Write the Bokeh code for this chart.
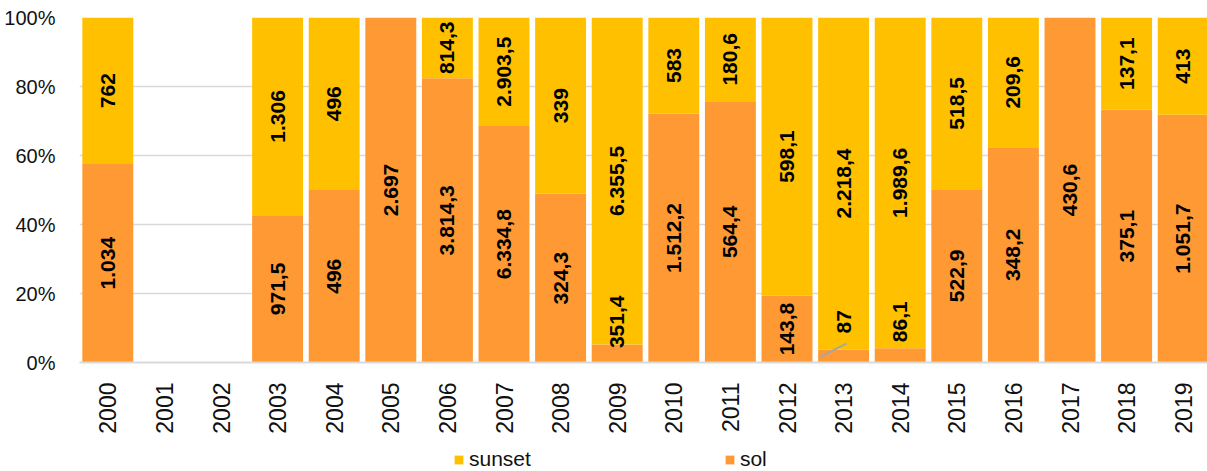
import math
from bokeh.plotting import figure
from bokeh.layouts import column
from bokeh.models import (Range1d, FixedTicker, PrintfTickFormatter, Legend,
                          LegendItem)
from bokeh.core.properties import value
from bokeh.embed import file_html
from bokeh.resources import INLINE

# ---- data ----
years = list(range(2000, 2020))
sol = [1034, 0, 0, 971.5, 496, 2697, 3814.3, 6334.8, 324.3, 351.4,
       1512.2, 564.4, 143.8, 87, 86.1, 522.9, 348.2, 430.6, 375.1, 1051.7]
sunset = [762, 0, 0, 1306, 496, 0, 814.3, 2903.5, 339, 6355.5,
          583, 180.6, 598.1, 2218.4, 1989.6, 518.5, 209.6, 0, 137.1, 413]
y_ticks = [0, 20, 40, 60, 80, 100]
series_names = ["sunset", "sol"]

SOL_COLOR = "#FF9933"
SUNSET_COLOR = "#FFC000"
FONT = "Liberation Sans"


def fmt(v):
    if float(v).is_integer():
        return f"{int(v):,}".replace(",", ".")
    s = f"{v:,.1f}"
    return s.replace(",", "X").replace(".", ",").replace("X", ".")


totals = [a + b for a, b in zip(sol, sunset)]
sol_pct = [100.0 * a / t if t else 0.0 for a, t in zip(sol, totals)]
sun_top = [100.0 if t else 0.0 for t in totals]

# ---- main figure ----
W = 1207
H_MAIN = 436
H_LEG = 35
LEFT = 79
pitch = 56.6
x_end = 1999.5 + (W - LEFT) / pitch

p = figure(width=W, height=H_MAIN, output_backend="svg", toolbar_location=None,
           x_range=Range1d(1999.5, x_end), y_range=Range1d(0, 100),
           min_border_left=LEFT, min_border_right=0, min_border_top=17,
           min_border_bottom=H_MAIN - 365, outline_line_color=None)

p.vbar(x=years, width=0.9, bottom=0, top=sol_pct,
       fill_color=SOL_COLOR, line_color=None)
p.vbar(x=years, width=0.9, bottom=sol_pct, top=sun_top,
       fill_color=SUNSET_COLOR, line_color=None)

# ---- data labels ----
lx, ly, lt = [], [], []
seg_x0, seg_y0, seg_x1, seg_y1 = [], [], [], []
for yr, s, u, sp, t in zip(years, sol, sunset, sol_pct, totals):
    if t == 0:
        continue
    up = 100.0 - sp
    if s > 0:
        if sp < 6:
            lx.append(yr); ly.append(11.8); lt.append(fmt(s))
            if sp < 4:
                seg_x0.append(yr - 0.41); seg_y0.append(1.7)
                seg_x1.append(yr + 0.05); seg_y1.append(5.5)
        else:
            lx.append(yr); ly.append(sp / 2); lt.append(fmt(s))
    if u > 0:
        lx.append(yr); ly.append(sp + up / 2); lt.append(fmt(u))

if seg_x0:
    p.segment(x0=seg_x0, y0=seg_y0, x1=seg_x1, y1=seg_y1,
              line_color="#A6A6A6", line_width=2)

p.text(x=lx, y=ly, text=lt, angle=math.pi / 2, text_align="center",
       text_baseline="middle", text_font=value(FONT), text_font_size="21px",
       text_font_style="bold", text_color="#000000")

# ---- axes ----
p.xgrid.visible = False
p.ygrid.ticker = FixedTicker(ticks=y_ticks)
p.ygrid.grid_line_color = "#D9D9D9"
p.ygrid.grid_line_width = 1.5

p.yaxis.ticker = FixedTicker(ticks=y_ticks)
p.yaxis.formatter = PrintfTickFormatter(format="%d%%")
p.yaxis.axis_line_color = None
p.yaxis.major_tick_line_color = None
p.yaxis.minor_tick_line_color = None
p.yaxis.major_label_standoff = 18
p.yaxis.major_label_text_font = FONT
p.yaxis.major_label_text_font_size = "20px"
p.yaxis.major_label_text_color = "#111111"

p.xaxis.ticker = FixedTicker(ticks=years)
p.xaxis.axis_line_color = "#D9D9D9"
p.xaxis.axis_line_width = 2
p.xaxis.major_tick_line_color = None
p.xaxis.minor_tick_line_color = None
p.xaxis.major_label_orientation = math.pi / 2
p.xaxis.major_label_standoff = 14
p.xaxis.major_label_text_font = FONT
p.xaxis.major_label_text_font_size = "23px"
p.xaxis.major_label_text_color = "#111111"

# ---- legend strip (separate figure below the chart) ----
pl = figure(width=W, height=H_LEG, output_backend="svg", toolbar_location=None,
            x_range=Range1d(0, 1), y_range=Range1d(0, 1),
            min_border_left=0, min_border_right=0, min_border_top=0,
            min_border_bottom=0, outline_line_color=None)
pl.axis.visible = False
pl.grid.visible = False
# proxy glyphs placed outside the visible range, used only for legend swatches
g_sun = pl.vbar(x=[5], width=0.9, top=[1], fill_color=SUNSET_COLOR, line_color=None)
g_sol = pl.vbar(x=[5], width=0.9, top=[1], fill_color=SOL_COLOR, line_color=None)

legend = Legend(items=[LegendItem(label=series_names[0], renderers=[g_sun]),
                       LegendItem(label=series_names[1], renderers=[g_sol])],
                orientation="horizontal", location=(374, 0),
                glyph_width=11, glyph_height=11, label_standoff=5,
                label_height=24, spacing=193, padding=0, margin=0,
                border_line_color=None, background_fill_alpha=0,
                label_text_font=FONT, label_text_font_size="21px",
                label_text_color="#111111")
pl.add_layout(legend, "center")

layout = column(p, pl, spacing=0)
open("out.html", "w").write(file_html(layout, INLINE))
